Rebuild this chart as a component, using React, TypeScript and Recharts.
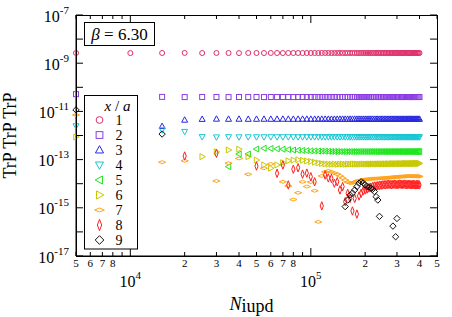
import React from "react";
import { ScatterChart, Scatter, XAxis, YAxis } from "recharts";

const FONT = "'Liberation Serif', 'Times New Roman', Times, serif";

// chart box (plot area = 76..437 x 15..256)
const W = 452;
const H = 317;
const LEFT = 76;
const TOP = 15;
const RIGHT = 437;
const BOTTOM = 256;

// N_iupd: measurement every 5000 updates
const nIupd = [
  5000, 10000, 15000, 20000, 25000, 30000, 35000, 40000, 45000, 50000,
  55000, 60000, 65000, 70000, 75000, 80000, 85000, 90000, 95000, 100000,
  105000, 110000, 115000, 120000, 125000, 130000, 135000, 140000, 145000, 150000,
  155000, 160000, 165000, 170000, 175000, 180000, 185000, 190000, 195000, 200000,
  205000, 210000, 215000, 220000, 225000, 230000, 235000, 240000, 245000, 250000,
  255000, 260000, 265000, 270000, 275000, 280000, 285000, 290000, 295000, 300000,
  305000, 310000, 315000, 320000, 325000, 330000, 335000, 340000, 345000, 350000,
  355000, 360000, 365000, 370000, 375000, 380000, 385000, 390000, 395000, 400000,
];

// TrP TrP TrP for each x/a (null = not plotted)
const corrX1 = [
  2.66e-9, 2.63e-9, 2.65e-9, 2.67e-9, 2.64e-9, 2.66e-9, 2.65e-9, 2.63e-9, 2.66e-9, 2.65e-9,
  2.64e-9, 2.66e-9, 2.65e-9, 2.64e-9, 2.66e-9, 2.65e-9, 2.65e-9, 2.64e-9, 2.66e-9, 2.65e-9,
  2.65e-9, 2.64e-9, 2.65e-9, 2.66e-9, 2.65e-9, 2.64e-9, 2.65e-9, 2.65e-9, 2.66e-9, 2.65e-9,
  2.64e-9, 2.65e-9, 2.65e-9, 2.66e-9, 2.65e-9, 2.65e-9, 2.64e-9, 2.65e-9, 2.65e-9, 2.66e-9,
  2.65e-9, 2.65e-9, 2.64e-9, 2.65e-9, 2.65e-9, 2.65e-9, 2.66e-9, 2.65e-9, 2.64e-9, 2.65e-9,
  2.65e-9, 2.65e-9, 2.65e-9, 2.66e-9, 2.65e-9, 2.64e-9, 2.65e-9, 2.65e-9, 2.65e-9, 2.65e-9,
  2.66e-9, 2.65e-9, 2.65e-9, 2.64e-9, 2.65e-9, 2.65e-9, 2.65e-9, 2.66e-9, 2.65e-9, 2.65e-9,
  2.65e-9, 2.64e-9, 2.65e-9, 2.65e-9, 2.65e-9, 2.66e-9, 2.65e-9, 2.65e-9, 2.65e-9, 2.65e-9,
];
const corrX2 = [
  5.2e-11, 3.6e-11, 4.0e-11, 3.93e-11, 3.97e-11, 3.95e-11, 3.92e-11, 3.96e-11, 3.94e-11, 3.95e-11,
  3.93e-11, 3.96e-11, 3.94e-11, 3.95e-11, 3.95e-11, 3.93e-11, 3.95e-11, 3.96e-11, 3.94e-11, 3.95e-11,
  3.95e-11, 3.94e-11, 3.95e-11, 3.96e-11, 3.95e-11, 3.94e-11, 3.95e-11, 3.95e-11, 3.96e-11, 3.95e-11,
  3.94e-11, 3.95e-11, 3.95e-11, 3.96e-11, 3.95e-11, 3.95e-11, 3.94e-11, 3.95e-11, 3.95e-11, 3.96e-11,
  3.95e-11, 3.95e-11, 3.94e-11, 3.95e-11, 3.95e-11, 3.95e-11, 3.96e-11, 3.95e-11, 3.94e-11, 3.95e-11,
  3.95e-11, 3.95e-11, 3.95e-11, 3.96e-11, 3.95e-11, 3.94e-11, 3.95e-11, 3.95e-11, 3.95e-11, 3.95e-11,
  3.96e-11, 3.95e-11, 3.95e-11, 3.94e-11, 3.95e-11, 3.95e-11, 3.95e-11, 3.96e-11, 3.95e-11, 3.95e-11,
  3.95e-11, 3.94e-11, 3.95e-11, 3.95e-11, 3.95e-11, 3.96e-11, 3.95e-11, 3.95e-11, 3.95e-11, 3.95e-11,
];
const corrX3 = [
  null, 3.4e-12, 2.4e-12, 4.4e-12, 4.75e-12, 4.85e-12, 4.8e-12, 4.82e-12, 4.78e-12, 4.8e-12,
  4.81e-12, 4.79e-12, 4.8e-12, 4.82e-12, 4.8e-12, 4.79e-12, 4.8e-12, 4.81e-12, 4.8e-12, 4.8e-12,
  4.79e-12, 4.8e-12, 4.81e-12, 4.8e-12, 4.8e-12, 4.79e-12, 4.8e-12, 4.8e-12, 4.81e-12, 4.8e-12,
  4.8e-12, 4.79e-12, 4.8e-12, 4.8e-12, 4.81e-12, 4.8e-12, 4.8e-12, 4.8e-12, 4.79e-12, 4.8e-12,
  4.8e-12, 4.81e-12, 4.8e-12, 4.8e-12, 4.8e-12, 4.79e-12, 4.8e-12, 4.8e-12, 4.81e-12, 4.8e-12,
  4.8e-12, 4.8e-12, 4.79e-12, 4.8e-12, 4.8e-12, 4.81e-12, 4.8e-12, 4.8e-12, 4.8e-12, 4.79e-12,
  4.8e-12, 4.8e-12, 4.81e-12, 4.8e-12, 4.8e-12, 4.8e-12, 4.79e-12, 4.8e-12, 4.8e-12, 4.81e-12,
  4.8e-12, 4.8e-12, 4.8e-12, 4.79e-12, 4.8e-12, 4.8e-12, 4.81e-12, 4.8e-12, 4.8e-12, 4.8e-12,
];
const corrX4 = [
  2.5e-12, 1.9e-12, 1.7e-12, 1.45e-12, 8.8e-13, 8.6e-13, 8.75e-13, 8.65e-13, 8.7e-13, 8.7e-13,
  8.68e-13, 8.72e-13, 8.7e-13, 8.69e-13, 8.71e-13, 8.7e-13, 8.7e-13, 8.68e-13, 8.72e-13, 8.7e-13,
  8.7e-13, 8.69e-13, 8.7e-13, 8.71e-13, 8.7e-13, 8.7e-13, 8.69e-13, 8.7e-13, 8.7e-13, 8.71e-13,
  8.7e-13, 8.7e-13, 8.69e-13, 8.7e-13, 8.7e-13, 8.71e-13, 8.7e-13, 8.7e-13, 8.7e-13, 8.69e-13,
  8.7e-13, 8.7e-13, 8.71e-13, 8.7e-13, 8.7e-13, 8.7e-13, 8.69e-13, 8.7e-13, 8.7e-13, 8.71e-13,
  8.7e-13, 8.7e-13, 8.7e-13, 8.69e-13, 8.7e-13, 8.7e-13, 8.71e-13, 8.7e-13, 8.7e-13, 8.7e-13,
  8.69e-13, 8.7e-13, 8.7e-13, 8.71e-13, 8.7e-13, 8.7e-13, 8.7e-13, 8.69e-13, 8.7e-13, 8.7e-13,
  8.71e-13, 8.7e-13, 8.7e-13, 8.7e-13, 8.69e-13, 8.7e-13, 8.7e-13, 8.71e-13, 8.7e-13, 8.7e-13,
];
const corrX5 = [
  null, null, null, null, null, null, 5.1e-14, 1.7e-13, 1.7e-13, 2.75e-13,
  2.95e-13, 2.9e-13, 2.8e-13, 2.7e-13, 2.6e-13, 2.5e-13, 2.45e-13, 2.4e-13, 2.35e-13, 2.3e-13,
  2.28e-13, 2.26e-13, 2.24e-13, 2.22e-13, 2.2e-13, 2.18e-13, 2.17e-13, 2.16e-13, 2.15e-13, 2.15e-13,
  2.14e-13, 2.15e-13, 2.16e-13, 2.15e-13, 2.14e-13, 2.15e-13, 2.15e-13, 2.16e-13, 2.15e-13, 2.14e-13,
  2.15e-13, 2.15e-13, 2.16e-13, 2.15e-13, 2.15e-13, 2.14e-13, 2.15e-13, 2.15e-13, 2.16e-13, 2.15e-13,
  2.15e-13, 2.14e-13, 2.15e-13, 2.15e-13, 2.15e-13, 2.16e-13, 2.15e-13, 2.15e-13, 2.14e-13, 2.15e-13,
  2.15e-13, 2.15e-13, 2.16e-13, 2.15e-13, 2.15e-13, 2.14e-13, 2.15e-13, 2.15e-13, 2.15e-13, 2.16e-13,
  2.15e-13, 2.15e-13, 2.14e-13, 2.15e-13, 2.15e-13, 2.15e-13, 2.16e-13, 2.15e-13, 2.15e-13, 2.15e-13,
];
const corrX6 = [
  8.7e-13, 4.0e-13, null, null, 1.32e-13, 2.1e-13, 2.5e-13, 2.7e-13, 1.32e-13, 9.6e-14,
  6.0e-14, 4.4e-14, 6.0e-14, 7.4e-14, 8.9e-14, 9.5e-14, 9.8e-14, 9.3e-14, 8.8e-14, 8.4e-14,
  7.8e-14, 7.3e-14, 6.9e-14, 6.6e-14, 6.5e-14, 6.4e-14, 6.5e-14, 6.4e-14, 6.5e-14, 6.5e-14,
  6.4e-14, 6.5e-14, 6.5e-14, 6.6e-14, 6.5e-14, 6.5e-14, 6.4e-14, 6.5e-14, 6.6e-14, 6.5e-14,
  6.5e-14, 6.6e-14, 6.5e-14, 6.6e-14, 6.6e-14, 6.5e-14, 6.6e-14, 6.7e-14, 6.6e-14, 6.6e-14,
  6.7e-14, 6.6e-14, 6.7e-14, 6.7e-14, 6.6e-14, 6.7e-14, 6.8e-14, 6.7e-14, 6.7e-14, 6.8e-14,
  6.7e-14, 6.8e-14, 6.8e-14, 6.7e-14, 6.8e-14, 6.8e-14, 6.9e-14, 6.8e-14, 6.8e-14, 6.9e-14,
  6.8e-14, 6.9e-14, 6.9e-14, 6.8e-14, 6.9e-14, 6.9e-14, 7.0e-14, 6.9e-14, 6.9e-14, 7.0e-14,
];
const corrX7 = [
  7.1e-12, 2.0e-13, 7.8e-14, 8.9e-14, null, 1.3e-14, 7.1e-14, 1.12e-13, 2.45e-14, null,
  4.4e-14, 6.6e-14, null, 1.2e-14, 8.0e-15, 2.2e-15, 4.2e-15, 1.2e-14, 7.6e-15, 1.17e-14,
  5.1e-15, 2.6e-16, 2.1e-14, 3.1e-14, 3.4e-14, 3.1e-14, 2.75e-14, 2.5e-14, 2.1e-14, 1.74e-14,
  1.41e-14, 1.17e-14, 1.07e-14, 1.07e-14, 1.17e-14, 1.29e-14, 1.32e-14, 1.41e-14, 1.45e-14, 1.5e-14,
  1.52e-14, 1.55e-14, 1.58e-14, 1.6e-14, 1.62e-14, 1.62e-14, 1.65e-14, 1.66e-14, 1.68e-14, 1.7e-14,
  1.72e-14, 1.74e-14, 1.75e-14, 1.78e-14, 1.8e-14, 1.82e-14, 1.85e-14, 1.86e-14, 1.88e-14, 1.9e-14,
  1.92e-14, 1.95e-14, 1.96e-14, 1.98e-14, 2.0e-14, 2.0e-14, 2.02e-14, 2.04e-14, 2.05e-14, 2.05e-14,
  2.06e-14, 2.05e-14, 2.04e-14, 2.05e-14, 2.06e-14, 2.05e-14, 2.04e-14, 2.03e-14, 2.02e-14, 2.0e-14,
];
const corrX8 = [
  null, null, null, 1.41e-13, null, 1.82e-13, null, null, null, 5.4e-14,
  null, null, 2.7e-14, 6.0e-14, 8.9e-15, 4.0e-14, 4.6e-14, 2.5e-14, 2.75e-14, 1.95e-14,
  1.2e-14, null, 1.2e-15, 2.3e-14, 1.74e-14, 1.66e-14, 1.05e-14, 1.2e-14, 5.5e-15, 7.6e-15,
  1.8e-15, 4.0e-15, 2.45e-15, 7.4e-16, 2.45e-15, 5.5e-16, 3.1e-15, 4.0e-15, 5.0e-15, 5.5e-15,
  6.0e-15, 6.6e-15, 7.2e-15, 7.6e-15, 8.0e-15, 8.0e-15, 8.3e-15, 8.5e-15, 8.7e-15, 8.9e-15,
  9.1e-15, 9.0e-15, 9.3e-15, 9.5e-15, 9.2e-15, 9.0e-15, 9.4e-15, 9.6e-15, 9.3e-15, 9.1e-15,
  9.4e-15, 9.7e-15, 9.5e-15, 9.2e-15, 9.4e-15, 9.6e-15, 9.3e-15, 9.1e-15, 9.3e-15, 9.5e-15,
  9.2e-15, 9.0e-15, 9.2e-15, 9.4e-15, 9.1e-15, 8.9e-15, 9.1e-15, 9.3e-15, 9.0e-15, 8.9e-15,
];
const corrX9 = [
  1.15e-11, 5.0e-12, 1.15e-12, null, null, null, null, null, null, null,
  null, null, null, null, null, null, null, null, null, null,
  null, null, null, null, null, null, null, null, null, null,
  1.12e-15, 2.1e-15, 3.4e-15, 4.1e-15, 5.5e-15, 7.6e-15, 1.05e-14, 1.2e-14, 1.07e-14, 8.9e-15,
  7.6e-15, 7.4e-15, 6.5e-15, 5.9e-15, 4.7e-15, 2.9e-15, 2.1e-15, 4.4e-16, null, null,
  null, null, null, null, null, null, 1.74e-16, null, 6.3e-17, 3.6e-16,
  null, null, null, null, null, null, null, null, null, null,
  null, null, null, null, null, null, null, null, null, null,
];

const seriesLabels = ["1", "2", "3", "4", "5", "6", "7", "8", "9"];
const seriesColors = [
  "#e0306a", "#8a3ee0", "#2828e0", "#18c6d2", "#1ee61e",
  "#c8c800", "#ffa41c", "#ff2020", "#111111",
];
const seriesShapes = ["circle", "square", "up", "down", "left", "right", "wide", "tall", "diamond"];
const seriesValues = [corrX1, corrX2, corrX3, corrX4, corrX5, corrX6, corrX7, corrX8, corrX9];

const xTicks = [
  5000, 6000, 7000, 8000, 9000, 10000, 20000, 30000, 40000, 50000,
  60000, 70000, 80000, 90000, 100000, 200000, 300000, 400000, 500000,
];
const xTickLabels = [
  "5", "6", "7", "8", "", "10^4", "2", "3", "4", "5",
  "6", "7", "8", "", "10^5", "2", "3", "4", "5",
];
const yTicks = [1e-17, 1e-16, 1e-15, 1e-14, 1e-13, 1e-12, 1e-11, 1e-10, 1e-9, 1e-8, 1e-7];
const yTickLabels = ["10^-17", "", "10^-15", "", "10^-13", "", "10^-11", "", "10^-9", "", "10^-7"];

const polys: Record<string, number[][]> = {
  up: [[0, -3.2], [3, 2.2], [-3, 2.2]],
  down: [[0, 3.2], [3, -2.2], [-3, -2.2]],
  left: [[-3.2, 0], [2.2, -3], [2.2, 3]],
  right: [[3.2, 0], [-2.2, -3], [-2.2, 3]],
  wide: [[-3.6, 0], [0, -1.5], [3.6, 0], [0, 1.5]],
  tall: [[0, -4.2], [1.6, 0], [0, 4.2], [-1.6, 0]],
  diamond: [[0, -3.2], [3.2, 0], [0, 3.2], [-3.2, 0]],
};

function Marker({ kind, cx, cy, color, s = 1 }: any) {
  const st = { fill: "none", stroke: color, strokeWidth: 1 };
  if (kind === "circle") return <circle cx={cx} cy={cy} r={2.5 * s} {...st} />;
  if (kind === "square")
    return <rect x={cx - 2.5 * s} y={cy - 2.5 * s} width={5 * s} height={5 * s} {...st} />;
  const points = polys[kind].map(([dx, dy]) => `${cx + dx * s},${cy + dy * s}`).join(" ");
  return <polygon points={points} {...st} />;
}

const findTick = (ticks: number[], v: number) =>
  ticks.findIndex(t => Math.abs(Math.log10(t) - Math.log10(v)) < 1e-6);

function XTick({ x, payload }: any) {
  const label = xTickLabels[findTick(xTicks, payload.value)] || "";
  const major = label.includes("^");
  const len = major ? 8 : 4;
  const [base, exp] = label.split("^");
  return (
    <g>
      <line x1={x} x2={x} y1={BOTTOM} y2={BOTTOM - len} stroke="#000" />
      <line x1={x} x2={x} y1={TOP} y2={TOP + len} stroke="#000" />
      {major ? (
        <text x={x} y={BOTTOM + 30.5} textAnchor="middle" fontFamily={FONT} fontSize={16} fill="#000">
          {base}
          <tspan dy={-8} fontSize={11}>{exp}</tspan>
        </text>
      ) : label ? (
        <text x={x} y={BOTTOM + 10.5} textAnchor="middle" fontFamily={FONT} fontSize={11} fill="#000">
          {label}
        </text>
      ) : null}
    </g>
  );
}

function YTick({ y, payload }: any) {
  const label = yTickLabels[findTick(yTicks, payload.value)] || "";
  const [base, exp] = label.split("^");
  return (
    <g>
      <line x1={LEFT} x2={LEFT + 7} y1={y} y2={y} stroke="#000" />
      <line x1={RIGHT} x2={RIGHT - 7} y1={y} y2={y} stroke="#000" />
      {label && (
        <text x={LEFT - 7} y={y + 6.5} textAnchor="end" fontFamily={FONT} fontSize={16} fill="#000">
          {base}
          <tspan dy={-8} fontSize={11}>{exp}</tspan>
        </text>
      )}
    </g>
  );
}

const buildPoints = (values: (number | null)[]) =>
  nIupd.flatMap((n, i) => (values[i] == null ? [] : [{ n, v: values[i] }]));

export default function App() {
  return (
    <div style={{ position: "absolute", left: 0, top: 0, width: W, height: H, background: "#fff" }}>
      <ScatterChart width={W} height={H} margin={{ top: TOP, right: W - RIGHT, bottom: 0, left: 0 }}>
        <XAxis
          type="number"
          dataKey="n"
          scale="log"
          domain={[5000, 500000]}
          ticks={xTicks}
          interval={0}
          tick={XTick}
          tickLine={false}
          tickSize={0}
          height={H - BOTTOM}
          axisLine={{ stroke: "#000" }}
          label={{
            content: ({ viewBox }: any) => (
              <text
                x={viewBox.x + viewBox.width / 2 - 5}
                y={310}
                textAnchor="middle"
                fontFamily={FONT}
                fontSize={18}
                fill="#000"
              >
                <tspan fontStyle="italic">N</tspan>
                <tspan dy={2}>iupd</tspan>
              </text>
            ),
          }}
        />
        <YAxis
          type="number"
          dataKey="v"
          scale="log"
          domain={[1e-17, 1e-7]}
          ticks={yTicks}
          interval={0}
          tick={YTick}
          tickLine={false}
          tickSize={0}
          width={LEFT}
          axisLine={{ stroke: "#000" }}
          label={{
            content: ({ viewBox }: any) => {
              const cy = viewBox.y + viewBox.height / 2;
              return (
                <text
                  x={15.5}
                  y={cy}
                  transform={`rotate(-90 15.5 ${cy})`}
                  textAnchor="middle"
                  fontFamily={FONT}
                  fontSize={18}
                  fill="#000"
                >
                  TrP TrP TrP
                </text>
              );
            },
          }}
        />
        {seriesValues.map((vals, i) => (
          <Scatter
            key={seriesLabels[i]}
            name={seriesLabels[i]}
            data={buildPoints(vals)}
            isAnimationActive={false}
            shape={(p: any) => (
              <Marker kind={seriesShapes[i]} cx={p.cx} cy={p.cy} color={seriesColors[i]} />
            )}
          />
        ))}
      </ScatterChart>
      <svg
        width={W}
        height={H}
        style={{ position: "absolute", left: 0, top: 0, pointerEvents: "none" }}
      >
        <rect x={LEFT + 0.5} y={TOP + 0.5} width={RIGHT - LEFT} height={BOTTOM - TOP} fill="none" stroke="#000" />
        {/* beta box */}
        <rect x={84.5} y={22.5} width={70} height={23} fill="#fff" stroke="#000" />
        <text x={119.5} y={39.5} textAnchor="middle" fontFamily={FONT} fontSize={17} fill="#000">
          <tspan fontStyle="italic">β</tspan> = 6.30
        </text>
        {/* key */}
        <rect x={84.5} y={95.5} width={53} height={153.5} fill="#fff" stroke="#000" />
        <text x={117.5} y={110.5} textAnchor="middle" fontFamily={FONT} fontSize={15} fill="#000">
          <tspan fontStyle="italic">x</tspan> / <tspan fontStyle="italic">a</tspan>
        </text>
        {seriesLabels.map((lab, i) => {
          const ry = 120 + 15 * i;
          return (
            <g key={lab}>
              <Marker kind={seriesShapes[i]} cx={99.5} cy={ry} color={seriesColors[i]} s={1.35} />
              <text x={119} y={ry + 5} textAnchor="middle" fontFamily={FONT} fontSize={14} fill="#000">
                {lab}
              </text>
            </g>
          );
        })}
      </svg>
    </div>
  );
}
